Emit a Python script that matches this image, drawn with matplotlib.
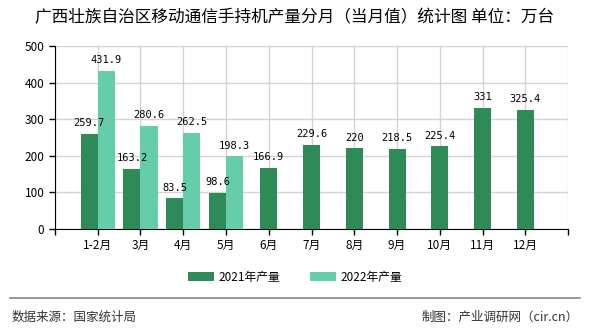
import matplotlib.pyplot as plt
import numpy as np

plt.rcParams["font.family"] = ["Noto Sans CJK SC", "DejaVu Sans"]

months = ["1-2月", "3月", "4月", "5月", "6月", "7月", "8月", "9月", "10月", "11月", "12月"]
y2021 = [259.7, 163.2, 83.5, 98.6, 166.9, 229.6, 220, 218.5, 225.4, 331, 325.4]
y2022 = [431.9, 280.6, 262.5, 198.3]

c2021 = "#2e8b57"
c2022 = "#66cdaa"

fig = plt.figure(figsize=(5.9, 3.3), dpi=100)
ax = fig.add_axes([0.093, 0.306, 0.870, 0.555])

x = np.arange(len(months))
w = 0.4
x21 = x.astype(float)
x21[:len(y2022)] -= w / 2
x22 = x[:len(y2022)] + w / 2

b1 = ax.bar(x21, y2021, width=w, color=c2021, label="2021年产量", zorder=3)
b2 = ax.bar(x22, y2022, width=w, color=c2022, label="2022年产量", zorder=3)

for xs, vals in ((x21, y2021), (x22, y2022)):
    for xi, v in zip(xs, vals):
        ax.text(xi, v + 16, f"{v:g}", ha="center", va="bottom", fontsize=7.5,
                family=["DejaVu Sans Mono"], zorder=4)

ax.set_xlim(-1, len(months))
ax.set_ylim(0, 500)
ax.set_yticks(range(0, 501, 100))
ax.set_xticks(range(-1, len(months) + 1))
ax.set_xticklabels([""] + months + [""])
ax.tick_params(axis="both", labelsize=8.5, length=4, width=1, color="black")
ax.grid(True, color="#d3d3d3", linewidth=1, zorder=0)
for s in ("top", "right"):
    ax.spines[s].set_visible(False)
ax.spines["left"].set_color("black")
ax.spines["bottom"].set_color("black")

fig.legend(handles=[b1, b2], loc="center", bbox_to_anchor=(0.5, 0.16), ncol=2,
           frameon=False, fontsize=8.5, handlelength=2.2, handleheight=0.8,
           columnspacing=2.5, handletextpad=0.4)

fig.text(0.5, 0.945, "广西壮族自治区移动通信手持机产量分月（当月值）统计图 单位：万台",
         ha="center", va="center", fontsize=12)
fig.add_artist(plt.Line2D([0.017, 0.983], [0.097, 0.097], color="#888888", linewidth=1.2))
fig.text(0.02, 0.04, "数据来源：国家统计局", ha="left", va="center", fontsize=9, color="#333333")
fig.text(0.98, 0.04, "制图：产业调研网（cir.cn）", ha="right", va="center", fontsize=9, color="#333333")

fig.savefig("out.png", dpi=100)
